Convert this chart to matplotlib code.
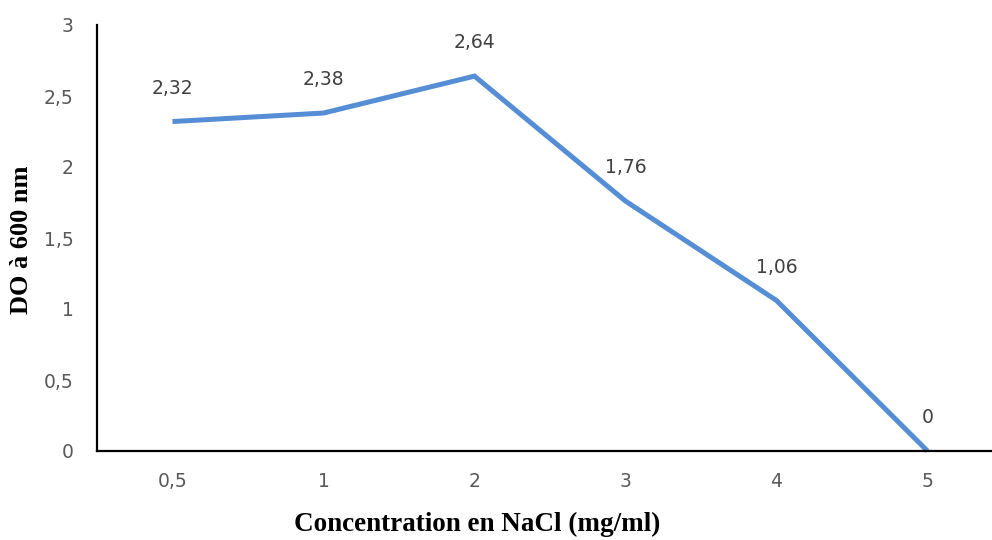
import matplotlib.pyplot as plt

# DO mesurée selon la concentration en NaCl
categories = ["0,5", "1", "2", "3", "4", "5"]
do_600 = [2.32, 2.38, 2.64, 1.76, 1.06, 0]
y_ticks = [0, 0.5, 1, 1.5, 2, 2.5, 3]

fig = plt.figure(figsize=(9.92, 5.4), dpi=100)
ax = fig.add_axes([97 / 992, 89 / 540, 895 / 992, 426 / 540])

x = list(range(len(categories)))
ax.plot(x, do_600, color="#558ED5", linewidth=3.6, solid_capstyle="butt",
        solid_joinstyle="miter", clip_on=False)

for xi, v in zip(x, do_600):
    label = ("%g" % v).replace(".", ",")
    ax.annotate(label, (xi, v), xytext=(0, 24), textcoords="offset points",
                ha="center", va="center", fontsize=13.5, color="#404040",
                family="DejaVu Sans")

ax.set_xlim(-0.5, -0.5 + 895 / 151)
ax.set_ylim(0, 3)
ax.set_xticks(x)
ax.set_xticklabels(categories)
ax.set_yticks(y_ticks)
ax.set_yticklabels([("%g" % t).replace(".", ",") for t in y_ticks])
ax.tick_params(length=0, labelsize=13.5, labelcolor="#595959")
ax.tick_params(axis="y", pad=17)
ax.tick_params(axis="x", pad=15)

for side in ("top", "right"):
    ax.spines[side].set_visible(False)
for side in ("left", "bottom"):
    ax.spines[side].set_linewidth(1.6)
    ax.spines[side].set_color("black")

fig.text(477 / 992, 1 - 524 / 540, "Concentration en NaCl (mg/ml)",
         ha="center", va="center", fontsize=19.5, fontweight="bold",
         family="Liberation Serif")
fig.text(22 / 992, 1 - 240 / 540, "DO à 600 nm", rotation=90,
         ha="center", va="center", fontsize=19, fontweight="bold",
         family="Liberation Serif")

fig.savefig("out.png", dpi=100)
